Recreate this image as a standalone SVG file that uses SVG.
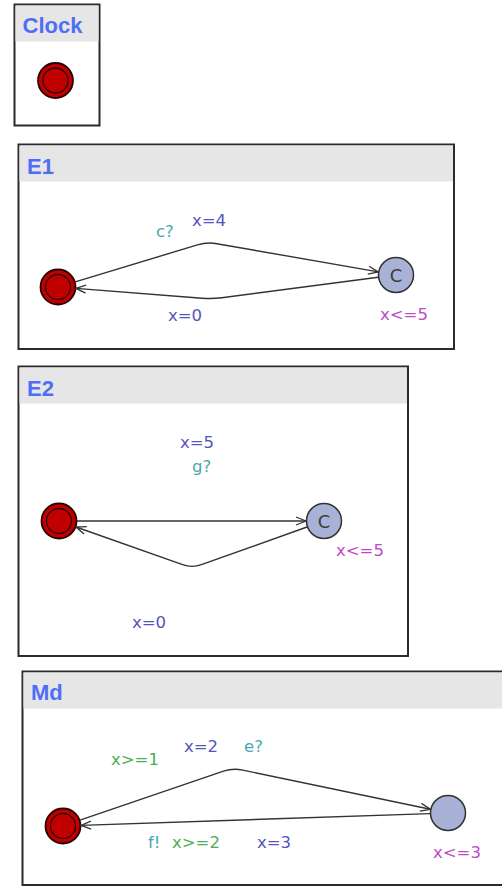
<svg xmlns="http://www.w3.org/2000/svg" width="502" height="888" viewBox="0 0 502 888">
  <style>
    .frame { fill: #ffffff; stroke: #2b2b2b; stroke-width: 2; }
    .head { fill: #e6e6e6; }
    .title { font-family: "Liberation Sans", Arial, sans-serif; font-weight: bold; font-size: 22px; fill: #4f6ef7; }
    .lbl { font-family: "DejaVu Sans", sans-serif; font-size: 16.5px; }
    .sync { fill: #4aa8b0; }
    .assign { fill: #5555bb; }
    .guard { fill: #4caf50; }
    .inv { fill: #c048c8; }
    .init-out { fill: #c00000; stroke: #2a0000; stroke-width: 1.8; }
    .init-in { fill: none; stroke: #2a0000; stroke-width: 1.3; }
    .loc { fill: #a8b2d6; stroke: #333333; stroke-width: 1.5; }
    .ctext { font-family: "DejaVu Sans", sans-serif; font-size: 18px; fill: #3c3c3c; }
    .edge { fill: none; stroke: #333333; stroke-width: 1.4; marker-end: url(#arr); }
  </style>
  <defs>
    <marker id="arr" viewBox="0 0 12 10" refX="11" refY="5" markerWidth="12" markerHeight="10" markerUnits="userSpaceOnUse" orient="auto">
      <path d="M1,1 L11,5 L1,9" fill="none" stroke="#333333" stroke-width="1.3"/>
    </marker>
  </defs>

  <!-- Clock template -->
  <g id="clock">
    <rect class="frame" x="14.5" y="4.5" width="85" height="121"/>
    <rect class="head" x="15.5" y="5.5" width="83" height="36"/>
    <text class="title" x="22.5" y="33">Clock</text>
    <circle class="init-out" cx="55.5" cy="80.5" r="17.5"/>
    <circle class="init-in" cx="55.5" cy="80.5" r="12.5"/>
  </g>

  <!-- E1 template -->
  <g id="E1">
    <rect class="frame" x="18.5" y="144.5" width="435.5" height="204.5"/>
    <rect class="head" x="19.5" y="145.5" width="433.5" height="36"/>
    <text class="title" x="27" y="174">E1</text>
  </g>
  <g id="E1-init">
    <circle class="init-out" cx="58" cy="287" r="17.5"/>
    <circle class="init-in" cx="58" cy="287" r="12.5"/>
  </g>
  <g id="E1-committed">
    <circle class="loc" cx="396" cy="275" r="17.5"/>
    <text class="ctext" x="396" y="281.5" text-anchor="middle">C</text>
    <text class="lbl inv" x="380" y="320">x&lt;=5</text>
  </g>

  <!-- E2 template -->
  <g id="E2">
    <rect class="frame" x="18.5" y="366.5" width="389.5" height="289.5"/>
    <rect class="head" x="19.5" y="367.5" width="387.5" height="36"/>
    <text class="title" x="27" y="396">E2</text>
  </g>
  <g id="E2-init">
    <circle class="init-out" cx="59" cy="521" r="17.5"/>
    <circle class="init-in" cx="59" cy="521" r="12.5"/>
  </g>
  <g id="E2-committed">
    <circle class="loc" cx="324" cy="521" r="17.5"/>
    <text class="ctext" x="324" y="527.5" text-anchor="middle">C</text>
    <text class="lbl inv" x="336" y="556">x&lt;=5</text>
  </g>

  <!-- Md template -->
  <g id="Md">
    <rect class="frame" x="22.5" y="671.5" width="490" height="213.5"/>
    <rect class="head" x="23.5" y="672.5" width="488" height="36"/>
    <text class="title" x="31" y="700">Md</text>
  </g>
  <g id="Md-init">
    <circle class="init-out" cx="63" cy="826" r="17.5"/>
    <circle class="init-in" cx="63" cy="826" r="12.5"/>
  </g>
  <g id="Md-loc">
    <circle class="loc" cx="448" cy="813" r="17.5"/>
    <text class="lbl inv" x="433" y="858">x&lt;=3</text>
  </g>

  <!-- transitions -->
  <g id="edges">
    <!-- E1 -->
    <path class="edge" d="M75.2,281.8 L197.4,244.9 Q207,242 216.9,243.7 L378.3,271.9"/>
    <path class="edge" d="M378.2,277.3 L221.9,297.7 Q212,299 202,298.2 L75.9,288.4"/>
    <!-- E2 -->
    <path class="edge" d="M77,521 L306,521"/>
    <path class="edge" d="M307,527 L201.4,564.7 Q192,568 182.6,564.7 L76,527"/>
    <!-- Md -->
    <path class="edge" d="M80,820.2 L223.5,771.2 Q233,768 242.8,770.1 L430.4,809.3"/>
    <path class="edge" d="M430,813.6 L81,825.4"/>
  </g>

  <!-- transition labels -->
  <g id="labels">
    <text class="lbl sync" x="156" y="237">c?</text>
    <text class="lbl assign" x="192" y="226">x=4</text>
    <text class="lbl assign" x="168" y="321">x=0</text>

    <text class="lbl assign" x="180" y="448">x=5</text>
    <text class="lbl sync" x="192" y="472">g?</text>
    <text class="lbl assign" x="132" y="628">x=0</text>

    <text class="lbl guard" x="111" y="765">x&gt;=1</text>
    <text class="lbl assign" x="184" y="752">x=2</text>
    <text class="lbl sync" x="244" y="752">e?</text>
    <text class="lbl sync" x="148" y="848">f!</text>
    <text class="lbl guard" x="172" y="848">x&gt;=2</text>
    <text class="lbl assign" x="257" y="848">x=3</text>
  </g>
</svg>
